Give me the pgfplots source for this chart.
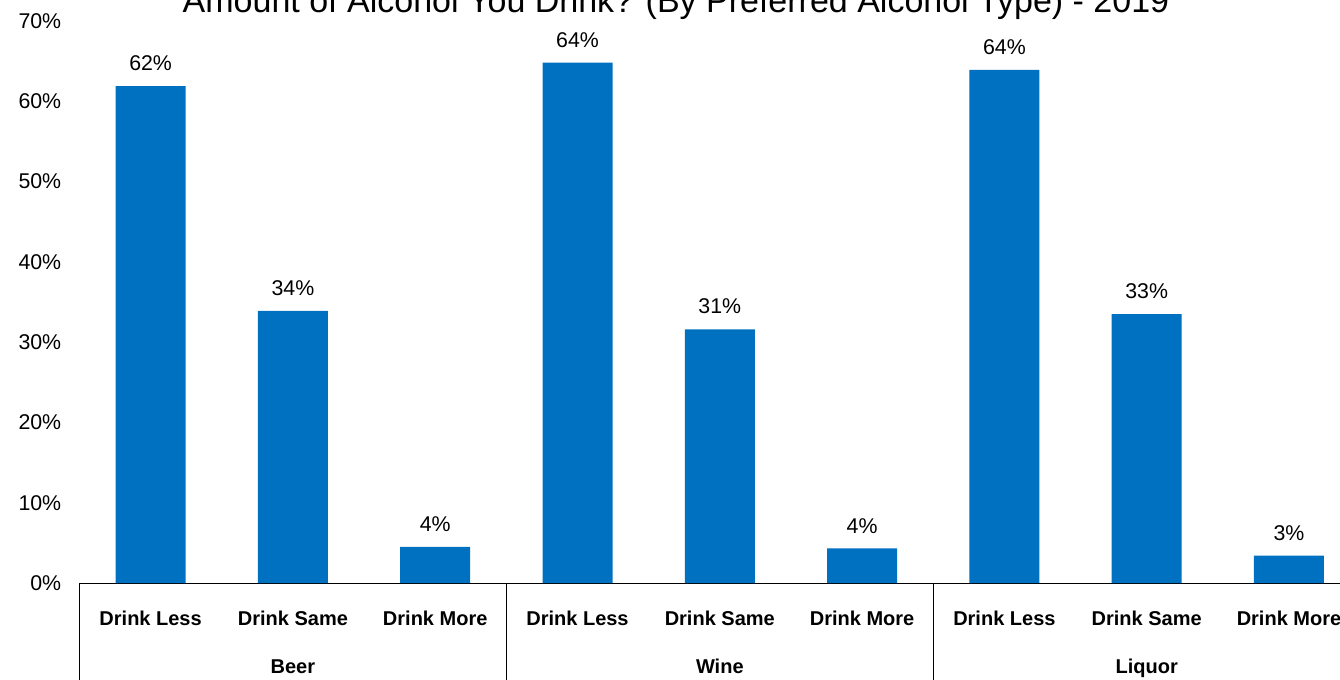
\documentclass[border=0pt]{standalone}
\usepackage{pgfplots}
\pgfplotsset{compat=1.18}
\usepackage{fontspec}
\setmainfont{Liberation Sans}
\definecolor{barblue}{HTML}{0070C0}
\begin{document}
\begin{tikzpicture}[x=0.75pt,y=0.75pt]
\useasboundingbox (0,0) rectangle (1340,679);
\clip (0,0) rectangle (1340,679);
\begin{axis}[
  at={(59.6pt,72pt)}, anchor=south west,
  scale only axis,
  width=960.5pt, height=421.5pt,
  xmin=-0.5, xmax=8.5, ymin=0, ymax=70,
  axis x line*=bottom, axis y line*=left,
  y axis line style={draw=none},
  x axis line style={line width=0.75pt},
  major tick length=0pt,
  ytick={0,10,20,30,40,50,60,70},
  yticklabels={0\%,10\%,20\%,30\%,40\%,50\%,60\%,70\%},
  yticklabel style={anchor=east, inner sep=0pt, xshift=-13.5pt, font=\fontsize{16}{19}\selectfont},
  xtick={0,1,2,3,4,5,6,7,8},
  xticklabels={Drink Less,Drink Same,Drink More,Drink Less,Drink Same,Drink More,Drink Less,Drink Same,Drink More},
  xticklabel style={anchor=base, inner sep=0pt, yshift=-31.5pt, font=\fontsize{15}{18}\selectfont\bfseries},
  clip=false,
  ybar, bar width=52.5pt,
  nodes near coords,
  point meta=explicit symbolic,
  every node near coord/.append style={inner sep=0pt, yshift=11.25pt, font=\fontsize{16}{19}\selectfont, black},
]
\addplot[fill=barblue, draw=none] coordinates {
  (0,61.9) [62\%]
  (1,33.9) [34\%]
  (2,4.5) [4\%]
  (3,64.8) [64\%]
  (4,31.6) [31\%]
  (5,4.3) [4\%]
  (6,63.9) [64\%]
  (7,33.5) [33\%]
  (8,3.4) [3\%]
};
\draw[line width=0.75pt] (axis cs:-0.5,0) -- ++(0pt,-80pt);
\draw[line width=0.75pt] (axis cs:2.5,0) -- ++(0pt,-80pt);
\draw[line width=0.75pt] (axis cs:5.5,0) -- ++(0pt,-80pt);
\node[anchor=base, inner sep=0pt, font=\fontsize{15}{18}\selectfont\bfseries] at (axis cs:1,0) [yshift=-67.5pt] {Beer};
\node[anchor=base, inner sep=0pt, font=\fontsize{15}{18}\selectfont\bfseries] at (axis cs:4,0) [yshift=-67.5pt] {Wine};
\node[anchor=base, inner sep=0pt, font=\fontsize{15}{18}\selectfont\bfseries] at (axis cs:7,0) [yshift=-67.5pt] {Liquor};
\end{axis}
\node[anchor=base, inner sep=0pt, font=\fontsize{25.5}{30}\selectfont] at (676,666) {Amount of Alcohol You Drink? (By Preferred Alcohol Type) - 2019};
\end{tikzpicture}
\end{document}
